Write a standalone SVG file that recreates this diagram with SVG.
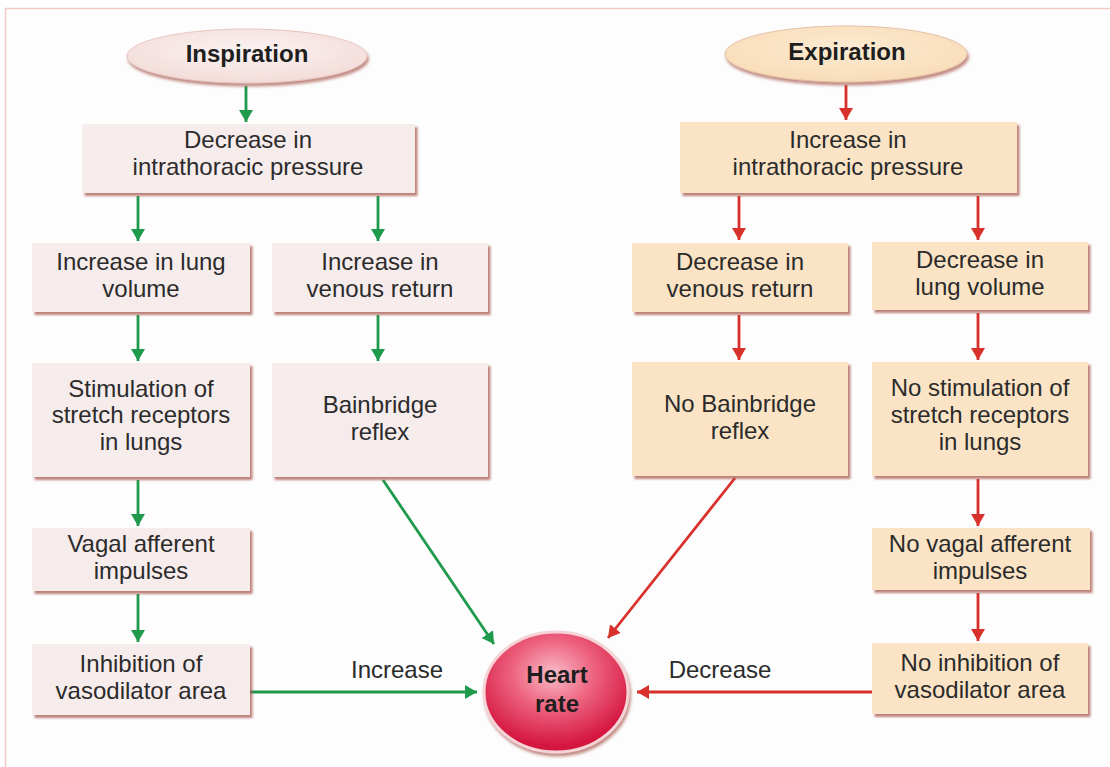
<svg xmlns="http://www.w3.org/2000/svg" width="1110" height="767" viewBox="0 0 1110 767">
  <defs>
    <style>
      .t { font-family: "Liberation Sans", Arial, sans-serif; font-size: 24px; fill: #2b2b2b; text-anchor: middle; }
      .b { font-family: "Liberation Sans", Arial, sans-serif; font-size: 24px; font-weight: bold; fill: #1e1e1e; text-anchor: middle; }
      .ins { fill: #f7ecec; }
      .exp { fill: #fbe4c6; }
      .g { stroke: #1f9a4c; stroke-width: 2.8; fill: none; marker-end: url(#ag); }
      .r { stroke: #d8312b; stroke-width: 2.8; fill: none; marker-end: url(#ar); }
    </style>
    <filter id="sh" x="-10%" y="-10%" width="125%" height="130%">
      <feDropShadow dx="2.5" dy="3" stdDeviation="1.2" flood-color="#a85a50" flood-opacity="0.75"/>
    </filter>
    <filter id="sh2" x="-20%" y="-20%" width="140%" height="150%">
      <feDropShadow dx="1.5" dy="3" stdDeviation="1.5" flood-color="#a85a50" flood-opacity="0.7"/>
    </filter>
    <marker id="ag" viewBox="0 0 12 14" refX="12" refY="7" markerWidth="12" markerHeight="14" markerUnits="userSpaceOnUse" orient="auto">
      <path d="M0,0 L12,7 L0,14 z" fill="#1f9a4c"/>
    </marker>
    <marker id="ar" viewBox="0 0 12 14" refX="12" refY="7" markerWidth="12" markerHeight="14" markerUnits="userSpaceOnUse" orient="auto">
      <path d="M0,0 L12,7 L0,14 z" fill="#d8312b"/>
    </marker>
    <radialGradient id="gIns" cx="50%" cy="40%" r="60%">
      <stop offset="0" stop-color="#fbf3f2"/>
      <stop offset="1" stop-color="#f3dcd9"/>
    </radialGradient>
    <radialGradient id="gExp" cx="50%" cy="40%" r="60%">
      <stop offset="0" stop-color="#fdebd2"/>
      <stop offset="1" stop-color="#f8dcb8"/>
    </radialGradient>
    <radialGradient id="gHeart" cx="48%" cy="35%" r="62%">
      <stop offset="0" stop-color="#f8bcc8"/>
      <stop offset="0.45" stop-color="#ee6480"/>
      <stop offset="1" stop-color="#d3123c"/>
    </radialGradient>
  </defs>

  <!-- page -->
  <rect x="0" y="0" width="1110" height="767" fill="#ffffff"/>
  <rect x="5.5" y="8.5" width="1110" height="770" fill="#fdfdfd" stroke="#f2cbc4" stroke-width="1.5"/>

  <!-- connectors -->
  <g id="connectors">
    <line class="g" x1="246" y1="86" x2="246" y2="122"/>
    <line class="g" x1="138" y1="196" x2="138" y2="241"/>
    <line class="g" x1="378" y1="196" x2="378" y2="241"/>
    <line class="g" x1="138" y1="315" x2="138" y2="361"/>
    <line class="g" x1="378" y1="315" x2="378" y2="361"/>
    <line class="g" x1="138" y1="480" x2="138" y2="526"/>
    <line class="g" x1="138" y1="594" x2="138" y2="642"/>
    <line class="g" x1="383" y1="480" x2="494" y2="644"/>
    <line class="g" x1="250" y1="692" x2="477" y2="692"/>

    <line class="r" x1="846" y1="85" x2="846" y2="120"/>
    <line class="r" x1="739" y1="196" x2="739" y2="240"/>
    <line class="r" x1="978" y1="196" x2="978" y2="240"/>
    <line class="r" x1="739" y1="315" x2="739" y2="360"/>
    <line class="r" x1="978" y1="313" x2="978" y2="360"/>
    <line class="r" x1="978" y1="479" x2="978" y2="526"/>
    <line class="r" x1="978" y1="593" x2="978" y2="641"/>
    <line class="r" x1="735" y1="478" x2="608" y2="638"/>
    <line class="r" x1="872" y1="692" x2="637" y2="692"/>

    <text class="t" x="397" y="678">Increase</text>
    <text class="t" x="720" y="678">Decrease</text>
  </g>

  <!-- inspiration side -->
  <g id="inspiration">
    <ellipse cx="247" cy="56" rx="120" ry="27" fill="url(#gIns)" stroke="#e8c6c0" stroke-width="1" filter="url(#sh2)"/>
    <text class="b" x="247" y="62">Inspiration</text>
  </g>
  <g id="decrease-intrathoracic">
    <rect class="ins" x="82" y="124" width="333" height="69" filter="url(#sh)"/>
    <text class="t" x="248" y="148">Decrease in</text>
    <text class="t" x="248" y="175">intrathoracic pressure</text>
  </g>
  <g id="increase-lung-volume">
    <rect class="ins" x="32" y="243" width="218" height="69" filter="url(#sh)"/>
    <text class="t" x="141" y="270">Increase in lung</text>
    <text class="t" x="141" y="297">volume</text>
  </g>
  <g id="increase-venous-return">
    <rect class="ins" x="272" y="243" width="216" height="69" filter="url(#sh)"/>
    <text class="t" x="380" y="270">Increase in</text>
    <text class="t" x="380" y="297">venous return</text>
  </g>
  <g id="stimulation-stretch">
    <rect class="ins" x="32" y="363" width="218" height="114" filter="url(#sh)"/>
    <text class="t" x="141" y="397">Stimulation of</text>
    <text class="t" x="141" y="423">stretch receptors</text>
    <text class="t" x="141" y="450">in lungs</text>
  </g>
  <g id="bainbridge">
    <rect class="ins" x="272" y="363" width="216" height="114" filter="url(#sh)"/>
    <text class="t" x="380" y="413">Bainbridge</text>
    <text class="t" x="380" y="440">reflex</text>
  </g>
  <g id="vagal-afferent">
    <rect class="ins" x="32" y="528" width="218" height="63" filter="url(#sh)"/>
    <text class="t" x="141" y="552">Vagal afferent</text>
    <text class="t" x="141" y="579">impulses</text>
  </g>
  <g id="inhibition-vasodilator">
    <rect class="ins" x="32" y="644" width="218" height="71" filter="url(#sh)"/>
    <text class="t" x="141" y="672">Inhibition of</text>
    <text class="t" x="141" y="699">vasodilator area</text>
  </g>

  <!-- expiration side -->
  <g id="expiration">
    <ellipse cx="846" cy="54" rx="121" ry="28" fill="url(#gExp)" stroke="#e6bfa4" stroke-width="1" filter="url(#sh2)"/>
    <text class="b" x="847" y="60">Expiration</text>
  </g>
  <g id="increase-intrathoracic">
    <rect class="exp" x="680" y="122" width="337" height="71" filter="url(#sh)"/>
    <text class="t" x="848" y="148">Increase in</text>
    <text class="t" x="848" y="175">intrathoracic pressure</text>
  </g>
  <g id="decrease-venous-return">
    <rect class="exp" x="632" y="243" width="216" height="69" filter="url(#sh)"/>
    <text class="t" x="740" y="270">Decrease in</text>
    <text class="t" x="740" y="297">venous return</text>
  </g>
  <g id="decrease-lung-volume">
    <rect class="exp" x="872" y="242" width="216" height="68" filter="url(#sh)"/>
    <text class="t" x="980" y="268">Decrease in</text>
    <text class="t" x="980" y="295">lung volume</text>
  </g>
  <g id="no-bainbridge">
    <rect class="exp" x="632" y="362" width="216" height="114" filter="url(#sh)"/>
    <text class="t" x="740" y="412">No Bainbridge</text>
    <text class="t" x="740" y="439">reflex</text>
  </g>
  <g id="no-stimulation-stretch">
    <rect class="exp" x="872" y="362" width="216" height="114" filter="url(#sh)"/>
    <text class="t" x="980" y="396">No stimulation of</text>
    <text class="t" x="980" y="423">stretch receptors</text>
    <text class="t" x="980" y="450">in lungs</text>
  </g>
  <g id="no-vagal-afferent">
    <rect class="exp" x="872" y="528" width="218" height="62" filter="url(#sh)"/>
    <text class="t" x="980" y="552">No vagal afferent</text>
    <text class="t" x="980" y="579">impulses</text>
  </g>
  <g id="no-inhibition-vasodilator">
    <rect class="exp" x="872" y="643" width="216" height="71" filter="url(#sh)"/>
    <text class="t" x="980" y="671">No inhibition of</text>
    <text class="t" x="980" y="698">vasodilator area</text>
  </g>

  <!-- outcome -->
  <g id="heart-rate">
    <ellipse cx="556" cy="692" rx="72" ry="60" fill="url(#gHeart)" stroke="#f6d3d6" stroke-width="3" filter="url(#sh2)"/>
    <text class="b" x="557" y="683" fill="#111">Heart</text>
    <text class="b" x="557" y="712" fill="#111">rate</text>
  </g>
</svg>
